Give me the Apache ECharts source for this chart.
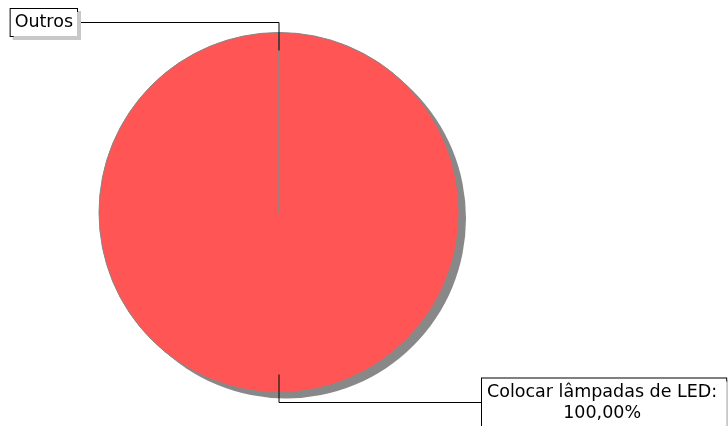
<!DOCTYPE html>
<html>
<head>
<meta charset="utf-8">
<script src="https://cdn.jsdelivr.net/npm/echarts@6/dist/echarts.min.js"></script>
<style>
html,body{margin:0;padding:0;background:#fff;}
#chart{width:728px;height:426px;}
</style>
</head>
<body>
<div id="chart"></div>
<script>
// Data
const categories = ['Colocar lâmpadas de LED', 'Outros'];
const values = [1, 0];
const colors = ['#ff5555', '#888888'];

const chart = echarts.init(document.getElementById('chart'), null, {renderer: 'canvas'});

// label box anchor: Outros box right edge, LED box left edge
const labelEdge = { 'Outros': 78, 'Colocar lâmpadas de LED': 481 };
const labelPadding = { 'Outros': [3, 4, 3, 4], 'Colocar lâmpadas de LED': [3, 9, 3, 5] };

const makeData = (mode) => categories.map((c, i) => {
  const color = mode === 'label' ? 'rgba(0,0,0,0)' : colors[i];
  const d = { name: c, value: values[i], itemStyle: { color: color } };
  if (mode === 'shadow' && values[i] === 0) {
    d.itemStyle.shadowColor = 'rgba(0,0,0,0)';
  }
  if (mode === 'label') {
    d.label = { padding: labelPadding[c] };
  }
  return d;
});

const common = {
  type: 'pie',
  center: [279, 212.5],
  radius: 180,
  startAngle: 90,
  clockwise: true,
  avoidLabelOverlap: false,
  minShowLabelAngle: 0,
  emphasis: { disabled: true }
};

chart.setOption({
  animation: false,
  backgroundColor: '#ffffff',
  series: [Object.assign({}, common, {
    // shadow layer
    data: makeData('shadow'),
    z: 1,
    silent: true,
    itemStyle: {
      borderWidth: 0,
      shadowColor: '#888888',
      shadowBlur: 0,
      shadowOffsetX: 7,
      shadowOffsetY: 6
    },
    label: { show: false },
    labelLine: { show: false }
  }), Object.assign({}, common, {
    // fill + border layer, no shadow
    data: makeData('fill'),
    z: 2,
    silent: true,
    itemStyle: {
      borderColor: '#888888',
      borderWidth: 1,
      shadowBlur: 0,
      shadowColor: 'rgba(0,0,0,0)'
    },
    label: { show: false },
    labelLine: { show: false }
  }), Object.assign({}, common, {
    // labels layer (transparent slices)
    data: makeData('label'),
    z: 3,
    itemStyle: {
      borderWidth: 0,
      shadowBlur: 0,
      shadowColor: 'rgba(0,0,0,0)'
    },
    label: {
      show: true,
      position: 'outside',
      fontFamily: 'DejaVu Sans',
      fontSize: 17.5,
      lineHeight: 21,
      color: '#000',
      align: 'center',
      backgroundColor: '#fff',
      borderColor: '#000',
      borderWidth: 1,
      padding: [3, 4, 3, 4],
      shadowColor: '#c8c8c8',
      shadowBlur: 0,
      shadowOffsetX: 3,
      shadowOffsetY: 3,
      formatter: function (p) {
        if (p.percent > 0) {
          return p.name + ':\n' + p.percent.toFixed(2).replace('.', ',') + '%';
        }
        return p.name;
      }
    },
    labelLine: {
      show: true,
      showAbove: true,
      length: 10,
      length2: 20,
      smooth: false,
      lineStyle: { color: '#000', width: 1 }
    },
    labelLayout: function (params) {
      const pts = params.labelLinePoints;
      const name = categories[params.dataIndex];
      if (!pts) return {};
      const p0 = pts[0], p1 = pts[1];
      const dx = p1[0] - p0[0], dy = p1[1] - p0[1];
      const len = Math.sqrt(dx * dx + dy * dy) || 1;
      const ux = dx / len, uy = dy / len;
      const start = [p0[0] - ux * 18, p0[1] - uy * 18];
      const edge = labelEdge[name];
      const w = params.labelRect.width;
      const cx = edge < p1[0] ? edge - w / 2 : edge + w / 2;
      return {
        x: cx,
        y: p1[1],
        align: 'center',
        verticalAlign: 'middle',
        labelLinePoints: [start, [p1[0], p1[1]], [edge, p1[1]]]
      };
    }
  })]
});
</script>
</body>
</html>
